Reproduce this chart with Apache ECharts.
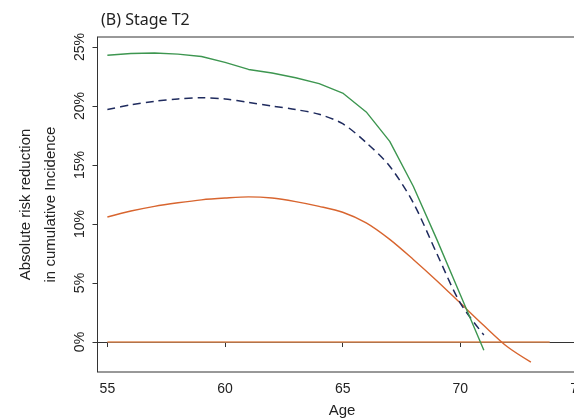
<!DOCTYPE html>
<html>
<head>
<meta charset="utf-8">
<script src="https://cdn.jsdelivr.net/npm/echarts@6/dist/echarts.min.js"></script>
<style>html,body{margin:0;padding:0;background:#fff}#c{width:574px;height:418px}</style>
</head>
<body>
<div id="c"></div>
<script>
const ages = [55,56,57,58,59,60,61,62,63,64,65,66,67,68,69,70,71];
const greenVals = [24.3,24.45,24.5,24.4,24.2,23.7,23.1,22.8,22.4,21.9,21.1,19.5,17.0,13.2,8.7,4.0,-0.7];
const blueVals  = [19.7,20.1,20.4,20.6,20.7,20.6,20.3,20.0,19.7,19.3,18.5,16.9,14.9,11.8,7.5,3.3,0.6];
const orangeAges = [55,56,57,58,59,60,61,62,63,64,65,66,67,68,69,70,71,72,73];
const orangeVals = [10.6,11.1,11.5,11.8,12.05,12.2,12.3,12.2,11.9,11.5,11.0,10.1,8.7,7.0,5.2,3.3,1.4,-0.4,-1.7];
const refAges = [55,73.8];
const refVals = [0,0];
const xTicks = [55,60,65,70,75];
const yTicks = [0,5,10,15,20,25];

const zip = (a,b) => a.map((x,i)=>[x,b[i]]);
const chart = echarts.init(document.getElementById('c'));
chart.setOption({
  animation:false,
  title:{text:'(B) Stage T2', left:96, top:7, textStyle:{fontFamily:'Noto Sans', fontSize:16, fontWeight:'normal', color:'#222'}},
  grid:{left:97.5, top:37, width:504, height:335, show:true, borderColor:'#333', borderWidth:1, outerBoundsMode:'none', containLabel:false},
  xAxis:{type:'value', min:54.58, max:76, splitLine:{show:false},
    axisLine:{show:true, lineStyle:{color:'#333'}},
    axisTick:{show:true, length:5, customValues:xTicks, lineStyle:{color:'#333'}},
    axisLabel:{customValues:xTicks, margin:10, fontFamily:'Liberation Sans', fontSize:14, color:'#222'},
    name:'Age', nameLocation:'middle', nameGap:31,
    nameTextStyle:{fontFamily:'Liberation Sans', fontSize:15, color:'#222', padding:[0,15,0,0]}},
  yAxis:{type:'value', min:-2.54, max:25.85, splitLine:{show:false},
    axisLine:{show:true, lineStyle:{color:'#333'}},
    axisTick:{show:true, length:5, customValues:yTicks, lineStyle:{color:'#333'}},
    axisLabel:{customValues:yTicks, rotate:90, margin:10, fontFamily:'Liberation Sans', fontSize:14, color:'#222', formatter:v=>v+'%'},
    name:'Absolute risk reduction\nin cumulative Incidence', nameLocation:'middle', nameRotate:90, nameGap:23,
    nameTextStyle:{fontFamily:'Liberation Sans', fontSize:15, lineHeight:25, color:'#222', padding:[0,0,2,0]}},
  series:[
    {type:'line', data:zip(refAges,refVals), symbol:'none', lineStyle:{color:'#dc8a55', width:1.5}},
    {type:'line', data:zip(orangeAges,orangeVals), symbol:'none', smooth:0.3, lineStyle:{color:'#d8652f', width:1.4}},
    {type:'line', data:zip(ages,blueVals), symbol:'none', smooth:0.3, lineStyle:{color:'#1f2b5e', width:1.5, type:[8,5]}},
    {type:'line', data:zip(ages,greenVals), symbol:'none', lineStyle:{color:'#3d9650', width:1.4}}
  ]
});
</script>
</body>
</html>
